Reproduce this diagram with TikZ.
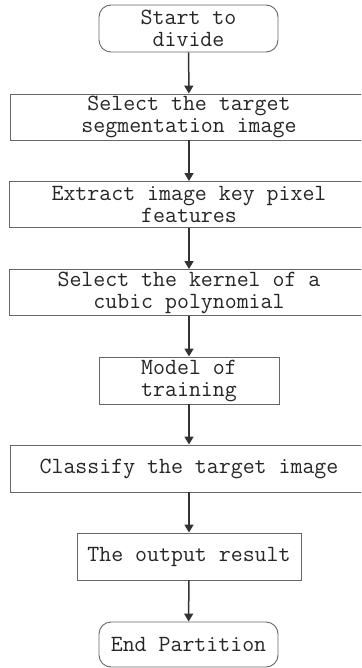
\documentclass[tikz,border=0pt]{standalone}
\usetikzlibrary{arrows.meta}
\begin{document}
\begin{tikzpicture}[x=1pt,y=-1pt,
  every node/.style={font=\ttfamily\fontsize{23.2}{22}\selectfont, text=black!85, align=center, inner sep=0pt},
  stepbox/.style={draw=black!60, line width=0.9pt, minimum height=46pt},
  termbox/.style={stepbox, rounded corners=12pt, minimum width=179pt},
  flow/.style={draw=black!80, line width=1.5pt, -{Triangle[length=8pt,width=9pt]}}]
\useasboundingbox[fill=white] (0,0) rectangle (361,668);
\clip (0,0) rectangle (361,668);
\node[termbox, minimum height=47pt] (start) at (188.5,28.5) {Start to\\divide};
\node[stepbox, minimum width=358pt] (select) at (189,117) {Select the target\\segmentation image};
\node[stepbox, minimum width=360pt] (extract) at (189,204.5) {Extract image key pixel\\features};
\node[stepbox, minimum width=360pt] (kernel) at (189,292.5) {Select the kernel of a\\cubic polynomial};
\node[stepbox, minimum width=180pt, minimum height=47pt] (train) at (189,380.5) {Model of\\training};
\node[stepbox, minimum width=358pt, minimum height=47pt] (classify) at (189,468.5) {Classify the target image};
\node[stepbox, minimum width=224pt, minimum height=47pt] (output) at (189,556.5) {The output result};
\node[termbox, minimum height=45pt] (end) at (188.5,644.5) {End Partition};
\draw[flow] (start) -- (select);
\draw[flow] (select) -- (extract);
\draw[flow] (extract) -- (kernel);
\draw[flow] (kernel) -- (train);
\draw[flow] (train) -- (classify);
\draw[flow] (classify) -- (output);
\draw[flow] (output) -- (end);
\end{tikzpicture}
\end{document}
